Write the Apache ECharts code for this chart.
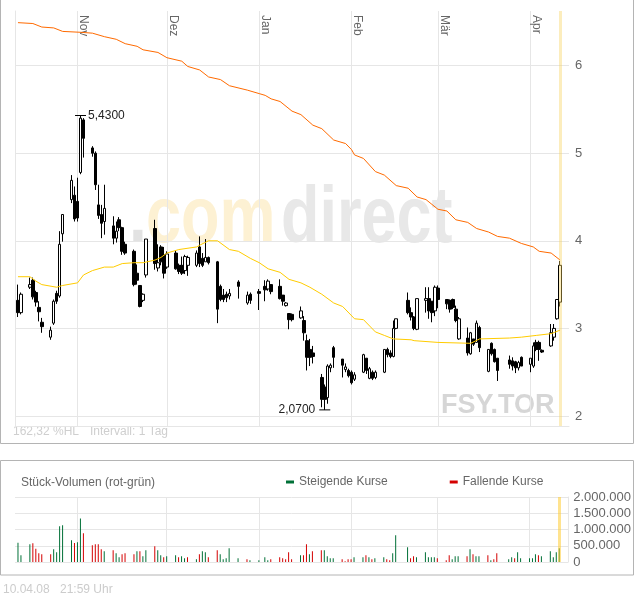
<!DOCTYPE html>
<html><head><meta charset="utf-8">
<script src="https://cdn.jsdelivr.net/npm/echarts@6/dist/echarts.min.js"></script>
<style>html,body{margin:0;padding:0;background:#fff}#c{width:634px;height:597px}</style>
</head><body><div id="c"></div>
<script>
const FONT = '"Liberation Sans", Arial, Helvetica, sans-serif';

// ---- axis categories ----
const firstDay = '2007-10-10', dayCount = 187;          // calendar axis
const holidays = ['2007-12-25','2007-12-26','2008-01-01','2008-02-18','2008-03-21'];
const firstTrade = '2007-10-11', lastTrade = '2008-04-10';
const monthEnds = ['2007-10-31','2007-11-30','2007-12-31','2008-01-31','2008-02-29','2008-03-31'];
const monthLabels = ['Nov','Dez','Jan','Feb','Mär','Apr'];
const priceTicks = [2,3,4,5,6];
const priceMin = 1.886, priceMax = 6.623;
const volMax = 2000000, volStep = 500000;

// ---- OHLC per trading day: [open, close, low, high] ----
const ohlc = [
[3.32,3.18,3.13,3.50],[3.18,3.39,3.16,3.41],
[3.47,3.50,3.45,3.58],[3.55,3.36,3.33,3.58],[3.41,3.30,3.25,3.43],[3.24,3.19,3.08,3.31],[3.07,3.02,2.95,3.12],
[2.90,2.98,2.87,3.02],[3.06,3.31,3.04,3.33],[3.40,3.31,3.28,3.43],[3.37,3.96,3.35,4.11],[4.08,4.30,3.99,4.30],
[4.47,4.69,4.43,4.75],[4.52,4.25,4.22,4.62],[4.45,4.26,4.22,4.72],[4.78,5.40,4.76,5.43],[5.38,5.17,4.95,5.40],
[5.06,5.00,4.96,5.08],[5.00,4.64,4.58,5.02],[4.41,4.29,4.25,4.64],[4.30,4.20,4.03,4.41],[4.22,4.37,4.07,4.64],
[4.17,4.03,3.96,4.28],[4.03,4.11,3.98,4.22],[4.24,4.15,4.11,4.27],[4.15,3.88,3.84,4.16],[3.96,3.86,3.84,3.99],
[3.88,3.50,3.48,3.90],[3.63,3.55,3.50,3.73],[3.49,3.25,3.24,3.49],[3.32,3.39,3.30,3.40],[3.61,4.02,3.58,4.02],
[4.14,3.74,3.67,4.24],[3.69,3.75,3.65,3.96],[3.93,3.76,3.72,3.95],[3.84,3.63,3.57,3.93],[3.70,3.85,3.68,3.88],
[3.86,3.68,3.67,3.89],[3.72,3.65,3.62,3.74],[3.72,3.63,3.61,3.82],[3.66,3.82,3.62,3.84],[3.72,3.81,3.60,3.83],
[3.72,3.86,3.70,3.89],[3.93,3.74,3.70,4.05],[3.80,3.72,3.70,3.86],[3.76,3.81,3.76,4.02],[3.81,3.75,3.73,3.82],
[3.76,3.22,3.06,3.77],[3.48,3.33,3.31,3.50],[3.38,3.33,3.30,3.45],[3.39,3.35,3.30,3.42],[3.37,3.40,3.33,3.45],
[3.53,3.48,3.34,3.55],[3.29,3.38,3.27,3.42],[3.39,3.32,3.28,3.41],
[3.42,3.40,3.21,3.45],[3.48,3.44,3.31,3.55],[3.45,3.54,3.43,3.56],[3.50,3.42,3.39,3.50],
[3.48,3.34,3.33,3.56],[3.38,3.31,3.26,3.38],[3.26,3.29,3.25,3.30],[3.17,3.10,2.99,3.17],[3.16,3.10,3.08,3.17],
[3.12,3.20,3.11,3.25],[3.09,2.95,2.86,3.14],[2.86,2.67,2.52,2.93],[2.76,2.67,2.57,2.88],[2.72,2.68,2.60,2.80],
[2.44,2.19,2.10,2.48],[2.33,2.19,2.07,2.36],[2.21,2.57,2.14,2.59],[2.55,2.58,2.50,2.60],[2.78,2.67,2.55,2.80],
[2.65,2.58,2.44,2.65],[2.53,2.56,2.50,2.60],[2.52,2.46,2.44,2.54],[2.50,2.38,2.36,2.52],[2.42,2.47,2.40,2.50],
[2.50,2.70,2.49,2.71],[2.66,2.52,2.48,2.66],[2.43,2.54,2.42,2.56],[2.50,2.43,2.41,2.52],[2.44,2.50,2.42,2.52],
[2.50,2.76,2.49,2.76],[2.76,2.70,2.67,2.78],[2.72,2.68,2.66,2.75],[2.68,3.00,2.67,3.09],[3.00,3.11,2.99,3.11],
[3.32,3.18,3.16,3.41],[3.18,3.13,3.09,3.24],[3.13,3.00,2.98,3.14],[2.99,3.34,2.98,3.34],
[3.32,3.34,3.18,3.47],[3.34,3.20,3.11,3.47],[3.31,3.18,3.07,3.31],[3.20,3.47,3.14,3.49],[3.46,3.33,3.23,3.49],
[3.33,3.28,3.22,3.33],[3.32,3.22,3.18,3.33],[3.33,3.24,3.22,3.34],[3.22,3.09,3.07,3.26],[2.88,3.11,2.87,3.13],
[2.89,2.72,2.69,3.01],[2.71,2.95,2.70,2.96],[2.88,2.82,2.80,2.88],[2.84,3.06,2.84,3.09],[3.01,2.78,2.73,3.03],
[2.51,2.76,2.50,2.76],[2.83,2.71,2.69,2.84],[2.76,2.62,2.61,2.77],[2.66,2.52,2.40,2.66],
[2.64,2.59,2.54,2.69],[2.63,2.57,2.52,2.67],[2.62,2.55,2.49,2.63],[2.55,2.61,2.52,2.63],[2.67,2.57,2.57,2.68],
[2.59,2.66,2.50,2.66],[2.57,2.80,2.55,2.84],[2.84,2.76,2.74,2.87],[2.84,2.76,2.63,2.86],[2.75,2.73,2.72,2.76],
[2.80,2.95,2.79,3.05],[2.90,3.00,2.86,3.05],[3.11,3.33,3.10,3.33],[3.30,3.72,3.25,3.77]
];

// ---- volume per trading day and direction (1 = steigend, -1 = fallend) ----
const volume = [
595000,205000,
544000,574000,410000,267000,236000,
236000,390000,297000,1100000,1130000,
667000,585000,605000,1340000,882000,
513000,544000,544000,390000,328000,
359000,267000,144000,236000,267000,
236000,328000,328000,174000,359000,
482000,359000,205000,144000,174000,
205000,144000,174000,113000,144000,
82000,236000,328000,297000,144000,
359000,236000,82000,113000,420000,
113000,82000,51000,
51000,144000,51000,82000,
144000,113000,82000,297000,82000,
205000,205000,544000,236000,328000,
359000,359000,174000,113000,113000,
82000,20000,82000,82000,144000,
144000,205000,144000,82000,113000,
144000,82000,51000,267000,820000,
451000,113000,174000,144000,
297000,144000,144000,144000,113000,
51000,205000,82000,174000,174000,
174000,390000,236000,174000,174000,
205000,51000,82000,267000,
82000,144000,113000,297000,113000,
113000,113000,236000,205000,174000,
328000,144000,297000,420000
];
const volDir = [
1,1,
1,-1,-1,-1,-1,
-1,1,1,1,1,
1,-1,1,1,-1,
-1,-1,-1,-1,1,
-1,1,1,-1,-1,
-1,1,-1,1,1,
-1,1,1,-1,1,
1,-1,1,1,-1,
1,-1,1,1,-1,
-1,1,1,1,1,
1,-1,1,
1,1,1,-1,
-1,-1,-1,-1,-1,
1,-1,-1,1,-1,
-1,1,1,1,1,
-1,-1,-1,-1,1,
1,-1,1,-1,1,
1,-1,-1,1,1,
1,-1,-1,1,
1,1,1,1,-1,
-1,-1,1,1,1,
-1,1,-1,1,1,
-1,1,-1,-1,
1,1,-1,1,1,
1,1,1,-1,1,
1,1,1,1
];

// ---- moving averages: [date, value] ----
const maSlow = [
['2007-10-11',6.49],['2007-10-16',6.48],['2007-10-19',6.44],['2007-10-23',6.43],['2007-10-26',6.39],
['2007-11-01',6.38],['2007-11-05',6.37],['2007-11-09',6.33],['2007-11-13',6.30],['2007-11-16',6.25],
['2007-11-20',6.22],['2007-11-22',6.18],['2007-11-27',6.15],['2007-11-30',6.09],['2007-12-05',6.05],
['2007-12-07',5.99],['2007-12-11',5.95],['2007-12-14',5.87],['2007-12-18',5.84],['2007-12-21',5.77],
['2007-12-27',5.72],['2007-12-31',5.68],['2008-01-02',5.66],['2008-01-04',5.62],['2008-01-07',5.59],
['2008-01-11',5.48],['2008-01-14',5.44],['2008-01-18',5.32],['2008-01-21',5.28],['2008-01-25',5.15],
['2008-01-29',5.11],['2008-01-31',5.04],['2008-02-01',4.98],['2008-02-04',4.94],['2008-02-08',4.79],
['2008-02-11',4.75],['2008-02-15',4.63],['2008-02-19',4.60],['2008-02-22',4.50],['2008-02-25',4.47],
['2008-02-29',4.36],['2008-03-03',4.34],['2008-03-06',4.24],['2008-03-10',4.21],['2008-03-13',4.14],
['2008-03-17',4.10],['2008-03-20',4.05],['2008-03-24',4.03],['2008-03-28',3.97],['2008-04-01',3.93],
['2008-04-03',3.88],['2008-04-07',3.86],['2008-04-10',3.78]
];
const maFast = [
['2007-10-11',3.59],['2007-10-15',3.59],['2007-10-17',3.54],['2007-10-19',3.50],['2007-10-24',3.47],
['2007-10-26',3.49],['2007-10-31',3.52],['2007-11-02',3.61],['2007-11-05',3.66],['2007-11-09',3.70],
['2007-11-12',3.70],['2007-11-15',3.74],['2007-11-19',3.75],['2007-11-22',3.75],['2007-11-26',3.78],
['2007-11-28',3.81],['2007-11-30',3.86],['2007-12-04',3.90],['2007-12-10',3.93],['2007-12-11',3.95],
['2007-12-14',4.00],['2007-12-17',4.00],['2007-12-21',3.90],['2007-12-24',3.88],['2007-12-28',3.80],
['2007-12-31',3.75],['2008-01-03',3.68],['2008-01-07',3.64],['2008-01-10',3.56],['2008-01-14',3.52],
['2008-01-17',3.47],['2008-01-21',3.39],['2008-01-25',3.29],['2008-01-28',3.25],['2008-02-01',3.11],
['2008-02-04',3.10],['2008-02-08',2.96],['2008-02-11',2.92],['2008-02-14',2.88],['2008-02-20',2.87],
['2008-02-21',2.86],['2008-02-29',2.84],['2008-03-11',2.83],['2008-03-14',2.88],['2008-03-24',2.89],
['2008-03-28',2.90],['2008-04-02',2.92],['2008-04-07',2.94],['2008-04-10',2.98]
];

// ---- build calendar categories and aligned arrays ----
const DAY = 86400000;
const t0 = Date.parse(firstDay + 'T00:00:00Z');
const calDays = [];
for (let i = 0; i < dayCount; i++) calDays.push(new Date(t0 + i * DAY).toISOString().slice(0, 10));
const tradeDates = calDays.filter(d => {
  const wd = new Date(d + 'T00:00:00Z').getUTCDay();
  return d >= firstTrade && d <= lastTrade && wd !== 0 && wd !== 6 && holidays.indexOf(d) < 0;
});
const tIdx = {};
tradeDates.forEach((d, i) => { tIdx[d] = i; });
const candleData = calDays.map(d => tIdx[d] != null ? ohlc[tIdx[d]] : '-');
const volUp = calDays.map(d => (tIdx[d] != null && volDir[tIdx[d]] > 0) ? volume[tIdx[d]] : '-');
const volDown = calDays.map(d => (tIdx[d] != null && volDir[tIdx[d]] < 0) ? volume[tIdx[d]] : '-');
const monthEndSet = new Set(monthEnds);
const monthLabelPos = monthEnds.map(d => calDays.indexOf(d) + 2);
const GRID = '#e6e6e6';

const chart = echarts.init(document.getElementById('c'), null, {renderer: 'canvas'});
chart.setOption({
  animation: false,
  backgroundColor: '#fff',
  textStyle: {fontFamily: FONT},
  grid: [
    {left: 15, right: 65, top: 11, height: 415},
    {left: 15, right: 65, top: 497, height: 65}
  ],
  legend: {
    data: ['Steigende Kurse', 'Fallende Kurse'],
    left: 286, top: 476, padding: 0, itemGap: 62,
    icon: 'rect', itemWidth: 8, itemHeight: 3, selectedMode: false,
    textStyle: {color: '#666', fontSize: 12, fontFamily: FONT}
  },
  xAxis: [
    {type: 'category', gridIndex: 0, data: calDays, boundaryGap: false,
     axisLine: {show: true, lineStyle: {color: GRID}}, axisTick: {show: false}, axisLabel: {show: false},
     splitLine: {show: true, interval: (i, v) => monthEndSet.has(v), lineStyle: {color: GRID}}},
    {type: 'value', gridIndex: 0, position: 'top', min: 0, max: dayCount - 1,
     axisLine: {show: false}, axisTick: {show: false}, splitLine: {show: false},
     axisLabel: {inside: true, rotate: 90, margin: 4, color: '#666', fontSize: 12, fontFamily: FONT,
       customValues: monthLabelPos,
       formatter: v => { const k = monthLabelPos.indexOf(Math.round(v)); return k >= 0 ? monthLabels[k] : ''; }}},
    {type: 'category', gridIndex: 1, data: calDays, boundaryGap: false,
     axisLine: {show: false}, axisTick: {show: false}, axisLabel: {show: false},
     splitLine: {show: true, interval: (i, v) => monthEndSet.has(v), lineStyle: {color: GRID}}}
  ],
  yAxis: [
    {type: 'value', gridIndex: 0, position: 'right', min: priceMin, max: priceMax, scale: true,
     axisLine: {show: true, lineStyle: {color: GRID}},
     axisTick: {show: false, customValues: priceTicks},
     axisLabel: {customValues: priceTicks, color: '#666', fontSize: 13, margin: 6, fontFamily: FONT},
     splitLine: {show: true, lineStyle: {color: GRID}}},
    {type: 'value', gridIndex: 1, position: 'right', min: 0, max: volMax, interval: volStep,
     axisLine: {show: true, lineStyle: {color: GRID}}, axisTick: {show: false},
     axisLabel: {color: '#666', fontSize: 13, margin: 5, fontFamily: FONT,
       formatter: v => String(v).replace(/\B(?=(\d{3})+(?!\d))/g, '.')},
     splitLine: {show: true, lineStyle: {color: GRID}}}
  ],
  graphic: [
    {type: 'rect', z: -10, silent: true, shape: {x: 0.5, y: -1, width: 633, height: 444.5},
     style: {fill: 'none', stroke: '#b4b4b4', lineWidth: 1}},
    {type: 'rect', z: -10, silent: true, shape: {x: 0.5, y: 460.5, width: 633, height: 114.5},
     style: {fill: 'none', stroke: '#b4b4b4', lineWidth: 1}},
    {type: 'text', z: -10, silent: true, x: 129, y: 220, scaleY: 1.27,
     style: {text: '.', font: 'bold 64px ' + FONT, fill: '#e2e2e2', verticalAlign: 'middle'}},
    {type: 'text', z: -10, silent: true, x: 146, y: 220, scaleY: 1.27,
     style: {text: 'com', font: 'bold 63px ' + FONT, fill: '#fdf1d3', verticalAlign: 'middle'}},
    {type: 'text', z: -10, silent: true, x: 281, y: 220, scaleY: 1.27,
     style: {text: 'direct', font: 'bold 63px ' + FONT, fill: '#e8e8e8', verticalAlign: 'middle'}},
    {type: 'text', z: -10, silent: true, x: 441, y: 405.5,
     style: {text: 'FSY.TOR', font: 'bold 27px ' + FONT, fill: '#d6d6d6', verticalAlign: 'middle'}},
    {type: 'text', silent: true, x: 13, y: 432,
     style: {text: '162,32 %HL', font: '12px ' + FONT, fill: '#cfcfcf', verticalAlign: 'middle'}},
    {type: 'text', silent: true, x: 90, y: 432,
     style: {text: 'Intervall: 1 Tag', font: '12px ' + FONT, fill: '#cfcfcf', verticalAlign: 'middle'}},
    {type: 'text', silent: true, x: 21, y: 482.5,
     style: {text: 'Stück-Volumen (rot-grün)', font: '12px ' + FONT, fill: '#666', verticalAlign: 'middle'}},
    {type: 'text', silent: true, x: 3, y: 590,
     style: {text: '10.04.08', font: '12px ' + FONT, fill: '#cccccc', verticalAlign: 'middle'}},
    {type: 'text', silent: true, x: 60, y: 590,
     style: {text: '21:59 Uhr', font: '12px ' + FONT, fill: '#cccccc', verticalAlign: 'middle'}}
  ],
  series: [
    {name: 'FSY.TOR', type: 'candlestick', xAxisIndex: 0, yAxisIndex: 0, data: candleData,
     barWidth: 3, z: 3,
     itemStyle: {color: '#fff', color0: '#000', borderColor: '#000', borderColor0: '#000', borderWidth: 1},
     markPoint: {
       symbol: 'rect', symbolSize: [11, 1], itemStyle: {color: '#000'}, silent: true,
       label: {show: true, color: '#222', fontSize: 12, fontFamily: FONT,
         formatter: p => Number(p.value).toFixed(4).replace('.', ',')},
       data: [
         {type: 'max', valueDim: 'highest', label: {position: 'right', distance: 2}},
         {type: 'min', valueDim: 'lowest', label: {position: 'left', distance: 4}}
       ]
     },
     markLine: {silent: true, symbol: ['none', 'none'], label: {show: false},
       lineStyle: {color: '#f8d35a', width: 3, opacity: 0.4, type: 'solid'},
       data: [{xAxis: lastTrade}]}
    },
    {name: 'MA slow', type: 'line', xAxisIndex: 0, yAxisIndex: 0, data: maSlow, z: 4,
     showSymbol: false, symbol: 'none', lineStyle: {color: '#ff6a00', width: 1}},
    {name: 'MA fast', type: 'line', xAxisIndex: 0, yAxisIndex: 0, data: maFast, z: 4,
     showSymbol: false, symbol: 'none', lineStyle: {color: '#ffcc00', width: 1}},
    {name: 'Steigende Kurse', type: 'bar', xAxisIndex: 2, yAxisIndex: 1, data: volUp,
     barWidth: 1, barGap: '-100%', itemStyle: {color: '#007037'},
     markLine: {silent: true, symbol: ['none', 'none'], label: {show: false},
       lineStyle: {color: '#ffcc33', width: 3, opacity: 0.55, type: 'solid'},
       data: [{xAxis: lastTrade}]}},
    {name: 'Fallende Kurse', type: 'bar', xAxisIndex: 2, yAxisIndex: 1, data: volDown,
     barWidth: 1, barGap: '-100%', itemStyle: {color: '#d40000'}}
  ]
});
</script>
</body></html>
